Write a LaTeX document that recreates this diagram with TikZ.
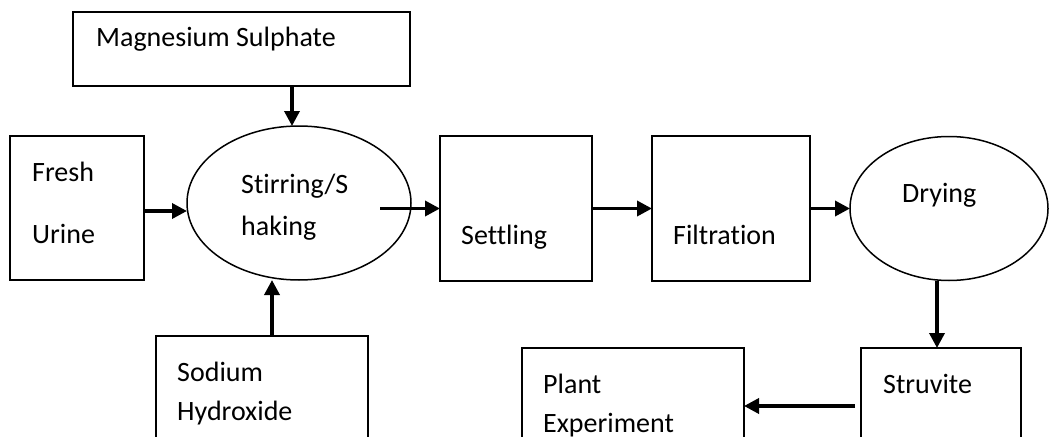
\documentclass[tikz,border=0pt]{standalone}
\usepackage{fontspec}
\setmainfont{Carlito}[Ligatures=NoCommon]
\usepackage{tikz}
\usetikzlibrary{shapes.geometric, arrows.meta, positioning}

\begin{document}
\begin{tikzpicture}[
    x=1pt, y=-1pt,
    box/.style={
        draw,
        line width=1.5pt,
        outer sep=0pt,
        inner sep=0pt
    },
    oval/.style={box, ellipse},
    txt/.style={
        anchor=base west,
        align=left,
        inner sep=0pt,
        font=\fontsize{28}{40}\selectfont
    },
    flow/.style={
        -{Triangle[length=15pt,width=15pt]},
        line width=3.5pt
    }
]
\useasboundingbox (0,0) rectangle (1051,436);

\node[box, minimum width=337pt, minimum height=74pt] (mgso4) at (241.5,49) {};
\node[box, minimum width=134pt, minimum height=144pt] (urine) at (77,208) {};
\node[oval, minimum width=224pt, minimum height=154pt] (stir) at (299,203) {};
\node[box, minimum width=212pt, minimum height=116pt] (naoh) at (262,394) {};

\node[box, minimum width=152pt, minimum height=145pt] (settle) at (516,208.5) {};
\node[box, minimum width=158pt, minimum height=145pt, right=60pt of settle] (filter) {};
\node[oval, minimum width=198pt, minimum height=144pt, right=40pt of filter] (dry) {};

\node[box, minimum width=160pt, minimum height=116pt] (struv) at (941,406) {};
\node[box, minimum width=222pt, minimum height=116pt] (plant) at (633,406) {};

% texts (base = last line)
\node[txt] (mgso4-t) at ([shift={(23pt,-35pt)}]mgso4.north west) {Magnesium Sulphate};
\node[txt] (urine-t) at ([shift={(22pt,-107pt)}]urine.north west) {Fresh\\[22pt]Urine};
\node[txt] (stir-t) at ([shift={(-58pt,-32pt)}]stir.center) {Stirring/S\\[2pt]haking};
\node[txt] (naoh-t) at ([shift={(21pt,-84pt)}]naoh.north west) {Sodium\\[-1pt]Hydroxide};
\node[txt] (settle-t) at ([shift={(21pt,-108pt)}]settle.north west) {Settling};
\node[txt] (filter-t) at ([shift={(21pt,-108pt)}]filter.north west) {Filtration};
\node[txt] (dry-t) at ([shift={(-47pt,6pt)}]dry.center) {Drying};
\node[txt] (struv-t) at ([shift={(22pt,-45pt)}]struv.north west) {Struvite};
\node[txt] (plant-t) at ([shift={(21pt,-84pt)}]plant.north west) {Plant\\[-1pt]Experiment};

% arrows
\draw[flow] ([xshift=-7pt]stir.north |- mgso4.south) -- ([xshift=-7pt]stir.north);
\draw[flow] ([yshift=-3pt]urine.east) -- ([yshift=-3pt]urine.east -| stir.west);
\draw[flow] ([xshift=10pt]naoh.north) -- ([xshift=10pt]naoh.north |- stir.south);
\draw[flow] ([xshift=-31pt]stir.east |- settle.west) -- (settle.west);
\draw[flow] (settle.east) -- (filter.west);
\draw[flow] (filter.east) -- (filter.east -| dry.west);
\draw[flow] ([xshift=-4pt]struv.north |- dry.south) -- ([xshift=-4pt]struv.north);
\draw[flow] ([xshift=-6pt]struv.west) -- (plant.east);

\end{tikzpicture}
\end{document}
